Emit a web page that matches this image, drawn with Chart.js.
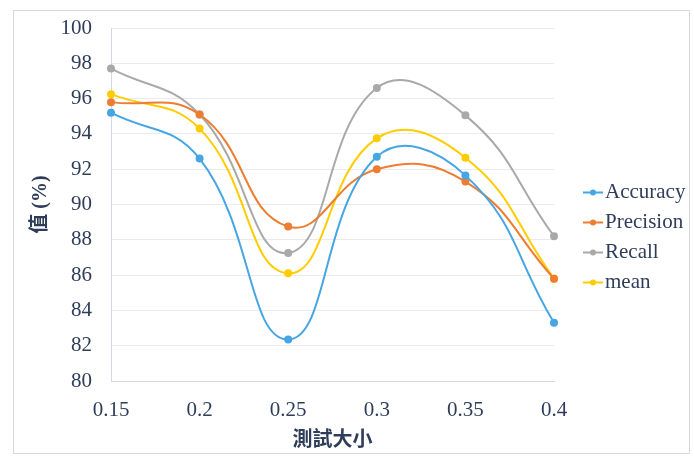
<!DOCTYPE html>
<html><head><meta charset="utf-8">
<script src="https://cdn.jsdelivr.net/npm/chart.js@4/dist/chart.umd.min.js"></script>
<style>
html,body{margin:0;padding:0;background:#fff;}
#box{position:absolute;left:13px;top:10px;width:677px;height:444px;border:1px solid #d9d9d9;box-sizing:border-box;}
</style></head>
<body>
<div id="box"><canvas id="c"></canvas></div>
<script>
const categories = ['0.15','0.2','0.25','0.3','0.35','0.4'];
const accuracy  = [95.2, 92.6, 82.35, 92.7, 91.65, 83.3];
const precision = [95.8, 95.1, 88.75, 92.0, 91.3, 85.8];
const recall    = [97.7, 95.1, 87.25, 96.6, 95.05, 88.2];
const meanVals  = [96.25, 94.3, 86.1, 93.75, 92.65, 85.8];
const yTicks = [80,82,84,86,88,90,92,94,96,98,100];

const seriesNames = ['Accuracy','Precision','Recall','mean'];
const seriesColors = ['#46a6e4','#ed7d31','#a9a9a9','#ffcc00'];
const seriesData = [accuracy, precision, recall, meanVals];

const txt = '#2f3d5a';
const serif = '"Liberation Serif","Times New Roman",serif';
const cjk = '"Liberation Serif","Noto Sans CJK TC",serif';

// legend drawn to the right of the plot area
const sideLegend = {
  id:'sideLegend',
  afterDraw(chart){
    const g = chart.ctx;
    const area = chart.chartArea;
    const x0 = area.right + 29;
    const yMid = (area.top + area.bottom)/2;
    const step = 30;
    const n = chart.data.datasets.length;
    g.save();
    chart.data.datasets.forEach((d,i)=>{
      const y = yMid + (i - (n-1)/2)*step + 33;
      g.strokeStyle = d.borderColor; g.lineWidth = 2;
      g.beginPath(); g.moveTo(x0, y); g.lineTo(x0+20, y); g.stroke();
      g.fillStyle = d.borderColor; g.beginPath(); g.arc(x0+10, y, 3, 0, Math.PI*2); g.fill();
      g.fillStyle = txt; g.font = '21px ' + serif; g.textBaseline = 'middle'; g.textAlign = 'left';
      g.fillText(d.label, x0+22, y);
    });
    g.restore();
  }
};

new Chart(document.getElementById('c'), {
  type:'line',
  data:{
    labels: categories,
    datasets: seriesNames.map((n,i)=>({
      label:n, data:seriesData[i], borderColor:seriesColors[i], backgroundColor:seriesColors[i],
      borderWidth:2, pointRadius:3, pointHoverRadius:3, tension:0.45, fill:false
    }))
  },
  options:{
    responsive:true, maintainAspectRatio:false, animation:false,
    layout:{padding:{top:0,right:135,left:0,bottom:3}},
    plugins:{ tooltip:{enabled:false}, legend:{display:false} },
    scales:{
      x:{
        offset:false,
        afterFit:(s)=>{ s.height = 69; },
        grid:{display:false, drawTicks:false},
        border:{color:'#d9d9d9'},
        ticks:{color:txt, font:{family:serif,size:21}, padding:17, maxRotation:0},
        title:{display:true, text:'測試大小', color:txt, font:{family:cjk,size:20,weight:'bold'}, padding:{top:0,bottom:-3}}
      },
      y:{
        min:80, max:100,
        afterBuildTicks:(s)=>{ s.ticks = yTicks.map(v=>({value:v})); },
        afterFit:(s)=>{ s.width = 97; s.paddingTop = 17; },
        grid:{color:'#ebebeb', drawTicks:false},
        border:{color:'#d0d9e6'},
        ticks:{color:txt, font:{family:serif,size:21}, padding:19},
        title:{display:true, text:'值 (%)', color:txt, font:{family:cjk,size:20,weight:'bold'}, padding:{top:15,bottom:0}}
      }
    }
  },
  plugins:[sideLegend]
});
</script>
</body></html>
